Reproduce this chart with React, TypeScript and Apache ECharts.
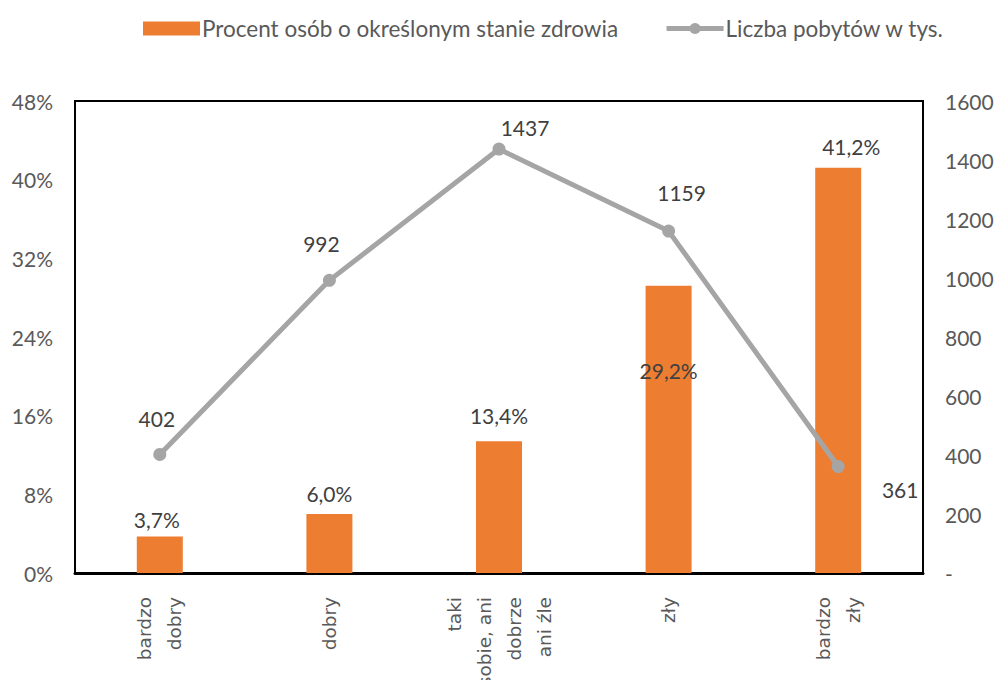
import React, { useEffect, useRef } from "react";
import * as echarts from "echarts";

const categories = ["bardzo\ndobry", "dobry", "taki\nsobie, ani\ndobrze\nani źle", "zły", "bardzo\nzły"];
const percentValues = [3.7, 6.0, 13.4, 29.2, 41.2];
const stayValues = [402, 992, 1437, 1159, 361];
const percentTicks = [0, 8, 16, 24, 32, 40, 48];
const stayTicks = [0, 200, 400, 600, 800, 1000, 1200, 1400, 1600];
const barName = "Procent osób o określonym stanie zdrowia";
const lineName = "Liczba pobytów w tys.";

const barLabelOffsets: [number, number][] = [[-3, -2], [0, -5], [0, -10], [0, 100], [13, -6]];
const lineLabelOffsets: [number, number][] = [[-3, -14], [-8, -15], [26, 0], [13, -17], [62, 45]];

const FONT = "Lato";

export default function App() {
  const ref = useRef<HTMLDivElement>(null);
  useEffect(() => {
    const chart = echarts.init(ref.current!, null, { renderer: "svg" });
    chart.setOption({
      animation: false,
      textStyle: { fontFamily: FONT },
      legend: {
        top: 17,
        left: 143,
        padding: 0,
        itemGap: 46,
        itemWidth: 57,
        itemHeight: 14,
        textStyle: { fontFamily: FONT, fontSize: 22.5, color: "#595959", padding: [0, 0, 0, -3] },
        data: [
          { name: barName, icon: "rect" },
          { name: lineName, lineStyle: { width: 5, color: "#A5A5A5" }, itemStyle: { color: "#A5A5A5" } },
        ],
      },
      grid: {
        left: 75,
        right: 79,
        top: 101,
        bottom: 107,
        show: true,
        borderColor: "#000",
        borderWidth: 2,
        containLabel: false,
        outerBoundsMode: "none",
      },
      xAxis: {
        type: "category",
        data: categories,
        axisLine: { show: true, lineStyle: { color: "#000", width: 3 } },
        axisTick: { show: false },
        axisLabel: {
          rotate: 90,
          interval: 0,
          margin: 24,
          fontFamily: "DejaVu Sans",
          fontSize: 18.5,
          lineHeight: 30,
          color: "#595959",
        },
      },
      yAxis: [
        {
          type: "value",
          min: percentTicks[0],
          max: percentTicks[percentTicks.length - 1],
          interval: 8,
          splitLine: { show: false },
          axisLine: { show: false },
          axisTick: { show: false },
          axisLabel: {
            margin: 22,
            fontFamily: FONT,
            fontSize: 21,
            color: "#595959",
            formatter: (v: number) => `${v}%`,
          },
        },
        {
          type: "value",
          min: stayTicks[0],
          max: stayTicks[stayTicks.length - 1],
          interval: 200,
          splitLine: { show: false },
          axisLine: { show: false },
          axisTick: { show: false },
          axisLabel: {
            margin: 22,
            fontFamily: FONT,
            fontSize: 21,
            color: "#595959",
            formatter: (v: number) => (v === 0 ? "-" : `${v}`),
          },
        },
      ],
      series: [
        {
          name: barName,
          type: "bar",
          yAxisIndex: 0,
          barWidth: 46,
          itemStyle: { color: "#ED7D31" },
          data: percentValues.map((v, i) => ({
            value: v,
            label: {
              show: true,
              position: "top",
              distance: 5,
              offset: barLabelOffsets[i],
              fontFamily: FONT,
              fontSize: 21,
              color: "#404040",
              formatter: () => `${v.toFixed(1).replace(".", ",")}%`,
            },
          })),
        },
        {
          name: lineName,
          type: "line",
          yAxisIndex: 1,
          symbol: "circle",
          symbolSize: 13,
          lineStyle: { color: "#A5A5A5", width: 5 },
          itemStyle: { color: "#A5A5A5" },
          data: stayValues.map((v, i) => ({
            value: v,
            label: {
              show: true,
              position: "top",
              distance: 5,
              offset: lineLabelOffsets[i],
              fontFamily: FONT,
              fontSize: 21,
              color: "#404040",
            },
          })),
        },
      ],
    });
    return () => chart.dispose();
  }, []);
  return <div ref={ref} style={{ width: 1002, height: 680, position: "absolute", left: 0, top: 0 }} />;
}
